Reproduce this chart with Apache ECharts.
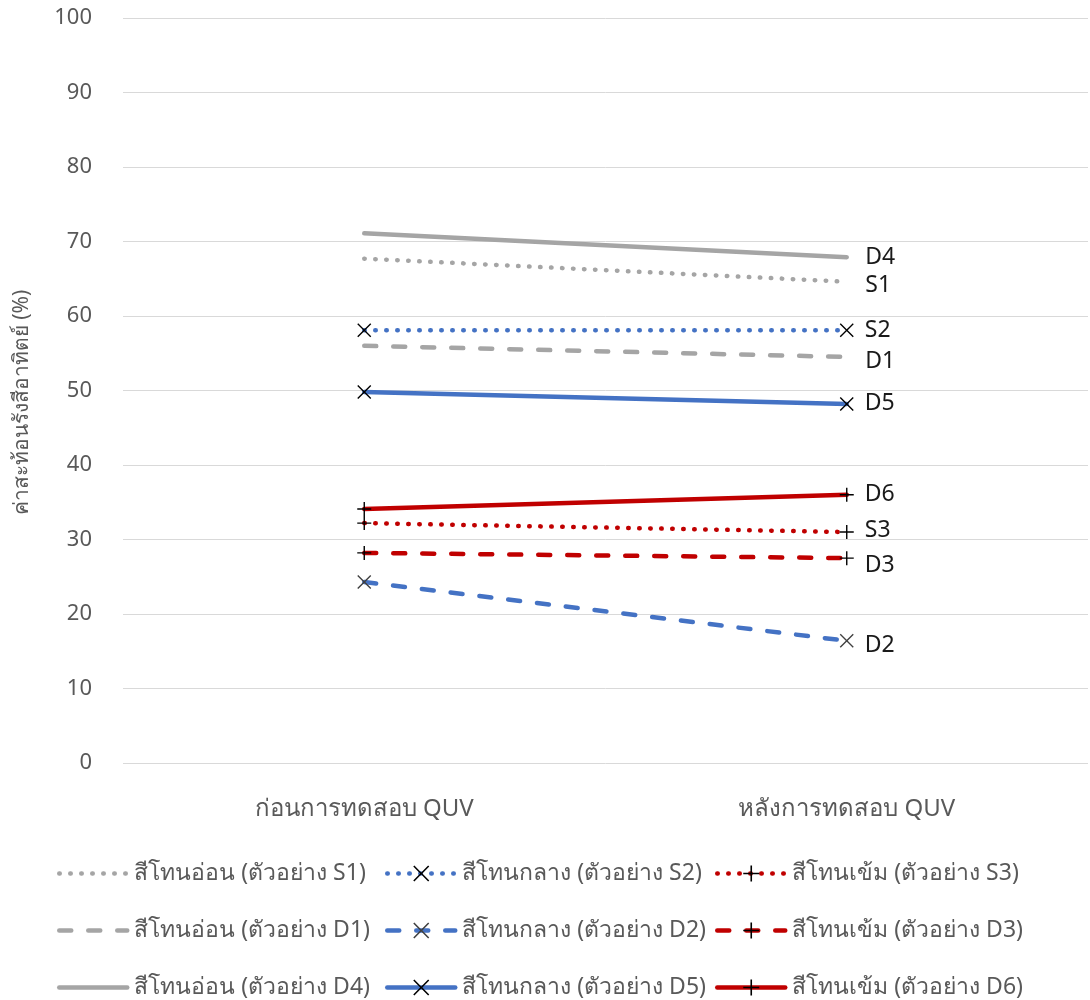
<!DOCTYPE html>
<html>
<head>
<meta charset="utf-8">
<script src="https://cdn.jsdelivr.net/npm/echarts@6/dist/echarts.min.js"></script>
<style>
  html, body { margin: 0; padding: 0; background: #fff; }
  #chart { width: 1090px; height: 1000px; }
</style>
</head>
<body>
<div id="chart"></div>
<script>
// Solar reflectance before / after QUV test for nine coating samples
const categories = ['ก่อนการทดสอบ QUV', 'หลังการทดสอบ QUV'];
const codes = ['S1', 'S2', 'S3', 'D1', 'D2', 'D3', 'D4', 'D5', 'D6'];
const names = [
  'สีโทนอ่อน (ตัวอย่าง S1)', 'สีโทนกลาง (ตัวอย่าง S2)', 'สีโทนเข้ม (ตัวอย่าง S3)',
  'สีโทนอ่อน (ตัวอย่าง D1)', 'สีโทนกลาง (ตัวอย่าง D2)', 'สีโทนเข้ม (ตัวอย่าง D3)',
  'สีโทนอ่อน (ตัวอย่าง D4)', 'สีโทนกลาง (ตัวอย่าง D5)', 'สีโทนเข้ม (ตัวอย่าง D6)'
];
const beforeValues = [67.7, 58.1, 32.2, 56.0, 24.3, 28.2, 71.1, 49.8, 34.1];
const afterValues  = [64.6, 58.1, 31.0, 54.5, 16.4, 27.5, 67.9, 48.2, 36.0];
const yTicks = [0, 10, 20, 30, 40, 50, 60, 70, 80, 90, 100];

const GRAY = '#A5A5A5', BLUE = '#4472C4', RED = '#C00000';
const FONT = '"Noto Sans", "DejaVu Sans", sans-serif';

const CROSS = 'path://M1.4,0L10,8.6L18.6,0L20,1.4L11.4,10L20,18.6L18.6,20L10,11.4L1.4,20L0,18.6L8.6,10L0,1.4Z';
const PLUS = 'path://M9,0H11V9H20V11H11V20H9V11H0V9H9Z';

// colour, dash pattern, marker and label nudge per sample
const tones = [GRAY, BLUE, RED];
const dashes = { S: [0.5, 10.5], D: [12, 17], solid: 'solid' };
function styleFor(i) {
  const tone = i % 3;
  const row = Math.floor(i / 3);
  const type = row === 0 ? dashes.S : row === 1 ? dashes.D : dashes.solid;
  const symbol = tone === 0 ? 'circle' : tone === 1 ? CROSS : PLUS;
  return { tone, color: tones[tone], type, symbol };
}
const labelNudge = { S1: 4, S2: 0, S3: -2, D1: 4, D2: 5, D3: 7, D4: 0, D5: 0, D6: 0 };

const series = names.map((name, i) => {
  const st = styleFor(i);
  const vals = [beforeValues[i], afterValues[i]];
  const markerColor = st.tone === 0 ? 'rgba(0,0,0,0)' : (i === 4 ? '#404040' : '#000');
  return {
    name,
    type: 'line',
    data: vals.map((v, k) => ({
      value: v,
      label: {
        show: k === vals.length - 1,
        formatter: codes[i],
        position: 'right',
        distance: st.tone === 0 ? 18 : 11,
        offset: [0, labelNudge[codes[i]]],
        color: '#1a1a1a',
        fontSize: 23,
        fontFamily: FONT
      }
    })),
    symbol: st.symbol,
    symbolSize: st.tone === 0 ? 1 : 14,
    showSymbol: true,
    itemStyle: { color: markerColor },
    lineStyle: { color: st.color, width: 4.5, type: st.type, cap: 'round' },
    emphasis: { disabled: true },
    animation: false,
    z: 10 - Math.floor(i / 3)
  };
});

// three legend columns, one per tone
const legends = [0, 1, 2].map(col => ({
  orient: 'vertical',
  left: [57, 385, 715][col],
  top: 862,
  height: 138,
  padding: 0,
  itemWidth: 68,
  itemHeight: 20,
  itemGap: 34,
  data: [col, col + 3, col + 6].map(i => names[i]),
  lineStyle: { width: 4.5 },
  textStyle: { color: '#595959', fontSize: 23, fontFamily: FONT, padding: [0, 0, 0, 2] }
}));

const chart = echarts.init(document.getElementById('chart'));
chart.setOption({
  backgroundColor: '#fff',
  animation: false,
  grid: { left: 123, right: 2, top: 18, bottom: 237 },
  legend: legends,
  xAxis: {
    type: 'category',
    data: categories,
    boundaryGap: true,
    axisLine: { show: false },
    axisTick: { show: false },
    axisLabel: { color: '#595959', fontSize: 24, fontFamily: FONT, margin: 34 }
  },
  yAxis: {
    type: 'value',
    min: yTicks[0],
    max: yTicks[yTicks.length - 1],
    interval: yTicks[1] - yTicks[0],
    name: 'ค่าสะท้อนรังสีอาทิตย์ (%)',
    nameLocation: 'middle',
    nameGap: 90,
    nameTextStyle: { color: '#595959', fontSize: 21, fontFamily: FONT, padding: [0, 24, 0, 0] },
    axisLine: { show: false },
    axisTick: { show: false },
    axisLabel: { color: '#595959', fontSize: 22, fontFamily: FONT, margin: 31 },
    splitLine: { lineStyle: { color: '#D9D9D9', width: 1 } }
  },
  series
});
</script>
</body>
</html>
